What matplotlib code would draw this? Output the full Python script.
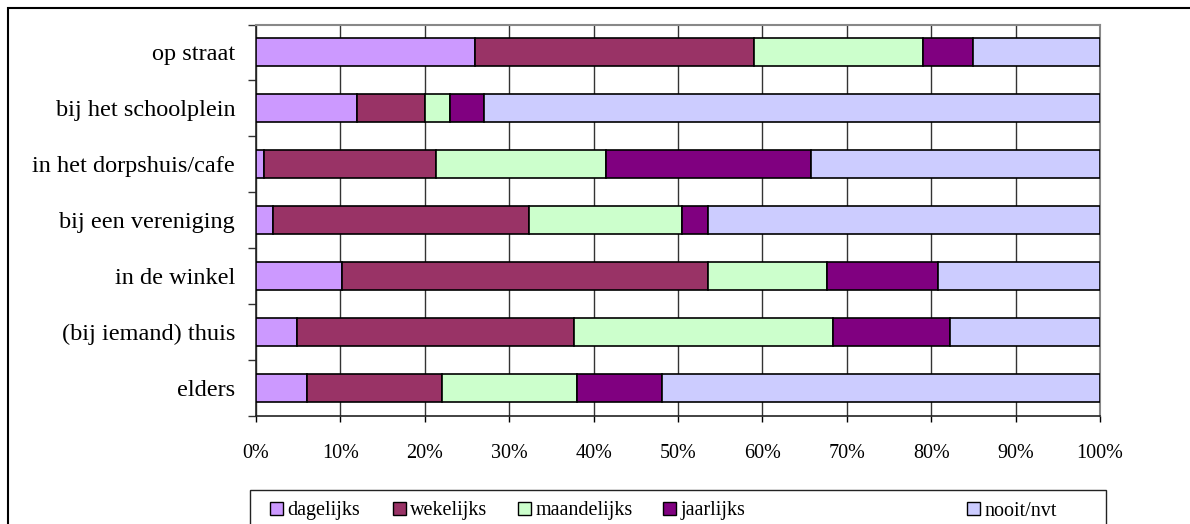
import matplotlib
matplotlib.use("Agg")
import matplotlib.pyplot as plt
from matplotlib.patches import Rectangle
import numpy as np

plt.rcParams['font.family'] = ['Liberation Serif', 'DejaVu Serif']

categories = ["op straat", "bij het schoolplein", "in het dorpshuis/cafe",
              "bij een vereniging", "in de winkel", "(bij iemand) thuis", "elders"]
series_names = ["dagelijks", "wekelijks", "maandelijks", "jaarlijks", "nooit/nvt"]
dagelijks   = [26.0, 12.0,  0.9,  2.0, 10.2,  4.9,  6.0]
wekelijks   = [33.0,  8.0, 20.4, 30.4, 43.3, 32.8, 16.0]
maandelijks = [20.0,  3.0, 20.2, 18.1, 14.2, 30.7, 16.0]
jaarlijks   = [ 6.0,  4.0, 24.3,  3.0, 13.1, 13.8, 10.1]
nooit       = [15.0, 73.0, 34.2, 46.5, 19.2, 17.8, 51.9]
colors = ["#CC99FF", "#993366", "#CCFFCC", "#800080", "#CCCCFF"]
xtick_labels = [f"{v}%" for v in range(0, 101, 10)]

W, H = 1190, 524
fig = plt.figure(figsize=(W / 100, H / 100), dpi=100)
ax = fig.add_axes([256 / W, 1 - 416 / H, (1100 - 256) / W, (416 - 24.5) / H])

data = [dagelijks, wekelijks, maandelijks, jaarlijks, nooit]
y = np.arange(len(categories))
left = np.zeros(len(categories))
handles = []
for name, vals, c in zip(series_names, data, colors):
    vals = np.array(vals)
    b = ax.barh(y, vals, left=left, height=0.5, color=c, edgecolor="black",
                linewidth=1.2, label=name, zorder=3)
    handles.append(b)
    left += vals

ax.set_xlim(0, 100)
ax.set_ylim(len(categories) - 0.5, -0.5)
ax.set_xticks(np.arange(0, 101, 10))
ax.set_xticklabels(xtick_labels, fontsize=14.5)
ax.set_yticks(y)
ax.set_yticklabels(categories, fontsize=17.5)
ax.set_yticks(np.arange(-0.5, len(categories)), minor=True)
ax.tick_params(axis='y', which='major', length=0, pad=15)
ax.tick_params(axis='y', which='minor', length=6, width=1, color='#333333')
ax.tick_params(axis='x', which='major', length=4.5, width=1, pad=16, color='black')
ax.xaxis.grid(True, color='#333333', linewidth=1, zorder=0)
ax.set_axisbelow(True)
for s in ['top', 'right']:
    ax.spines[s].set_color('#888888')
    ax.spines[s].set_linewidth(1.5)
for s in ['left', 'bottom']:
    ax.spines[s].set_color('#222222')
    ax.spines[s].set_linewidth(1.2)

leg_fs = 14.5
row_y = 1 - 511 / H
entry_x = [270, 393, 518, 663, 967]
for h, name, ex in zip(handles, series_names, entry_x):
    lg = fig.legend(handles=[h], labels=[name], loc='center left', fontsize=leg_fs,
                    frameon=False, handlelength=0.64, handleheight=0.64,
                    handletextpad=0.22, borderpad=0, borderaxespad=0,
                    bbox_to_anchor=(ex / W, row_y))
    for lh in lg.legend_handles:
        lh.set_linewidth(1.0)

fig.patches.append(Rectangle((250 / W, -0.1), (1106 - 250) / W, 1 - 490 / H + 0.1,
                             transform=fig.transFigure, fill=False,
                             edgecolor='#222222', linewidth=1.0))
fig.patches.append(Rectangle((8 / W, -0.2), 1.5, 1 - 8 / H + 0.2,
                             transform=fig.transFigure, fill=False,
                             edgecolor='black', linewidth=1.5))

fig.savefig("out.png", dpi=100)
